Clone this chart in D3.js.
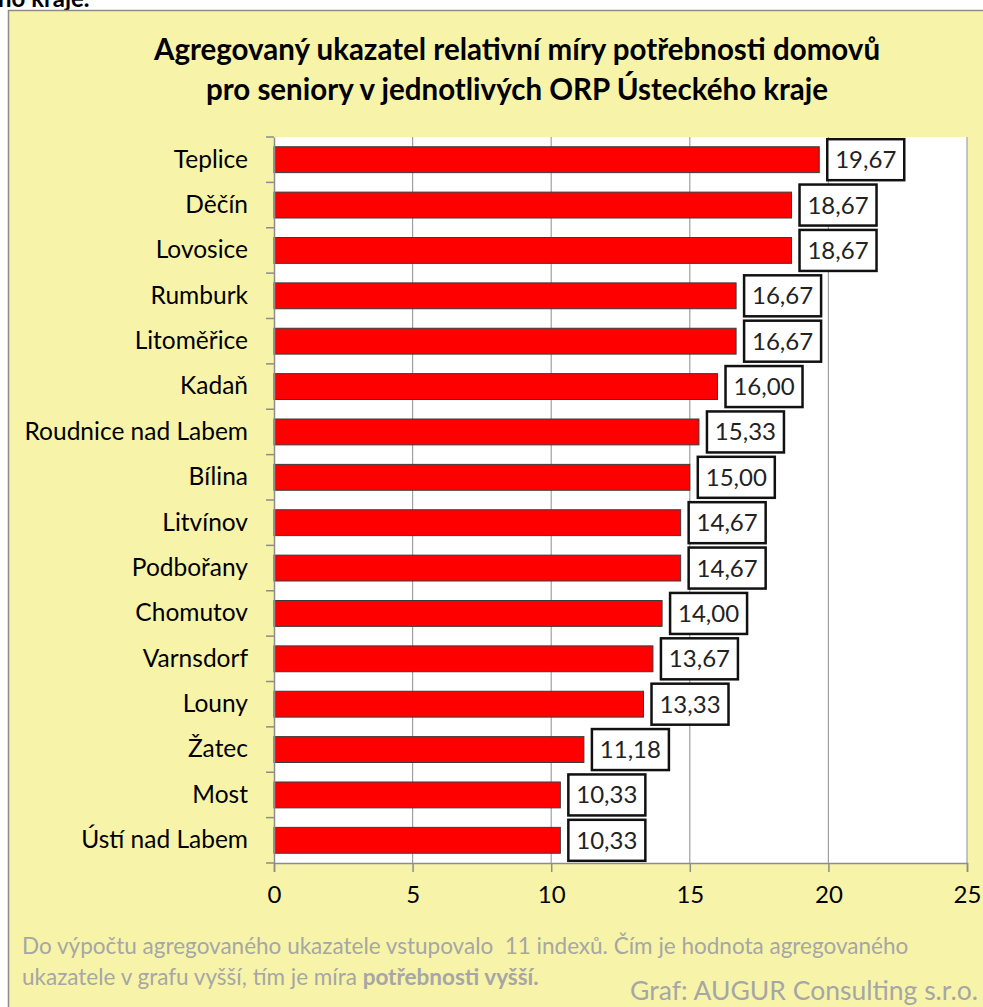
<!DOCTYPE html>
<html>
<head>
<meta charset="utf-8">
<script src="https://cdn.jsdelivr.net/npm/d3@7"></script>
<style>
body { margin: 0; background: #fff; }
svg text { font-family: Lato, "Open Sans", sans-serif; white-space: pre; }
</style>
</head>
<body>
<div id="graph"></div>
<script>
let categories = ["Teplice", "Děčín", "Lovosice", "Rumburk", "Litoměřice", "Kadaň",
    "Roudnice nad Labem", "Bílina", "Litvínov", "Podbořany", "Chomutov", "Varnsdorf",
    "Louny", "Žatec", "Most", "Ústí nad Labem"];
let values = [19.67, 18.67, 18.67, 16.67, 16.67, 16.00, 15.33, 15.00, 14.67, 14.67,
    14.00, 13.67, 13.33, 11.18, 10.33, 10.33];
let xTicks = [0, 5, 10, 15, 20, 25];
let titleLines = ["Agregovaný ukazatel relativní míry potřebnosti domovů",
    "pro seniory v jednotlivých ORP Ústeckého kraje"];

let data = categories.map(function(c, i) { return {name: c, value: values[i]}; });

let W = 983, H = 1007;
let svg = d3.select("#graph").append("svg").attr("width", W).attr("height", H);

// clipped heading from the page above
svg.append("text").attr("x", -2).attr("y", 7)
    .attr("font-size", 24).attr("font-weight", "bold").attr("fill", "#000")
    .text("ho kraje.");

// chart frame
svg.append("rect").attr("x", 8.5).attr("y", 10.5).attr("width", W).attr("height", H)
    .attr("fill", "#F7F4A9").attr("stroke", "#8c8c8c").attr("stroke-width", 1.5);

svg.selectAll(".title").data(titleLines).enter().append("text")
    .attr("x", 517).attr("y", function(d, i) { return 60 + i * 40; })
    .attr("text-anchor", "middle").attr("font-size", 29.5).attr("font-weight", "bold")
    .attr("fill", "#000").text(function(d) { return d; });

let x = d3.scaleLinear().domain([0, 25]).range([274, 967]);
let y = d3.scaleBand().domain(categories).range([137, 863]).paddingInner(0.43).paddingOuter(0.215);

svg.append("rect").attr("x", x(0)).attr("y", 137).attr("width", x(25) - x(0)).attr("height", 863 - 137)
    .attr("fill", "#fff");

// gridlines
svg.selectAll(".grid").data(xTicks.slice(1)).enter().append("line")
    .attr("x1", function(d) { return x(d); }).attr("x2", function(d) { return x(d); })
    .attr("y1", 137).attr("y2", 863).attr("stroke", "#a0a0a0").attr("stroke-width", 1.2);

// bars
svg.selectAll(".bar").data(data).enter().append("rect")
    .attr("x", x(0)).attr("y", function(d) { return y(d.name); })
    .attr("width", function(d) { return x(d.value) - x(0); })
    .attr("height", y.bandwidth())
    .attr("fill", "#ff0000").attr("stroke", "#3a3a3a").attr("stroke-width", 1);

// x axis
let xAxis = svg.append("g").attr("transform", "translate(0,863)")
    .call(d3.axisBottom(x).tickValues(xTicks).tickSize(9).tickPadding(14));
xAxis.select(".domain").attr("stroke", "#8c8c8c").attr("stroke-width", 1.5);
xAxis.selectAll(".tick line").attr("stroke", "#8c8c8c").attr("stroke-width", 1.5);
xAxis.selectAll("text").attr("font-size", 24).attr("fill", "#000")
    .style("font-family", "Lato, sans-serif");

// y axis
let yAxis = svg.append("g").attr("transform", "translate(" + x(0) + ",0)")
    .call(d3.axisLeft(y).tickSize(0).tickPadding(26));
yAxis.select(".domain").attr("stroke", "#8c8c8c").attr("stroke-width", 1.5);
yAxis.selectAll("text").attr("font-size", 24.5).attr("fill", "#000")
    .style("font-family", "Lato, sans-serif");
let bounds = d3.range(categories.length + 1).map(function(i) { return 137 + i * y.step(); });
svg.selectAll(".ytick").data(bounds).enter().append("line")
    .attr("x1", x(0) - 8).attr("x2", x(0)).attr("y1", function(d) { return d; }).attr("y2", function(d) { return d; })
    .attr("stroke", "#8c8c8c").attr("stroke-width", 1.5);

// value labels
let fmt = function(v) { return d3.format(".2f")(v).replace(".", ","); };
let labels = svg.selectAll(".lab").data(data).enter().append("g")
    .attr("transform", function(d) { return "translate(" + (x(d.value) + 8) + "," + (y(d.name) + y.bandwidth() / 2) + ")"; });
labels.append("rect").attr("x", 0).attr("y", -20.5).attr("width", 77).attr("height", 41)
    .attr("fill", "#fff").attr("stroke", "#111").attr("stroke-width", 2.5);
labels.append("text").attr("x", 38.5).attr("y", 8.5).attr("text-anchor", "middle")
    .attr("font-size", 24).attr("fill", "#222").text(function(d) { return fmt(d.value); });

// footnote
let note = svg.append("g").attr("fill", "#a6a6a6");
note.append("text").attr("x", 22).attr("y", 954).attr("font-size", 22.5)
    .text("Do výpočtu agregovaného ukazatele vstupovalo  11 indexů. Čím je hodnota agregovaného");
let l2 = note.append("text").attr("x", 22).attr("y", 985).attr("font-size", 22.5);
l2.append("tspan").text("ukazatele v grafu vyšší, tím je míra ");
l2.append("tspan").attr("font-weight", "bold").text("potřebnosti vyšší.");
note.append("text").attr("x", 978).attr("y", 1000).attr("text-anchor", "end").attr("font-size", 26.5)
    .text("Graf: AUGUR Consulting s.r.o.");
</script>
</body>
</html>
